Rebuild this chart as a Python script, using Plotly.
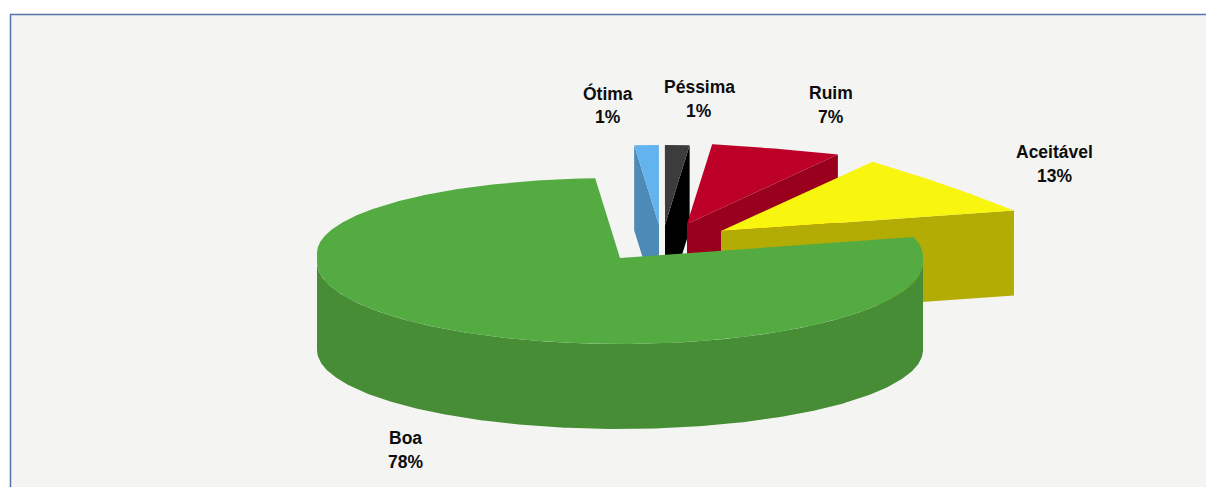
import math
import plotly.graph_objects as go

# ---- data ----
categories = ["Ótima", "Péssima", "Ruim", "Aceitável", "Boa"]
shares = [1.3, 1.3, 7.0, 12.6, 77.8]

# ---- styles / layout ----
top_colors = ["#63B4EE", "#3C3C3C", "#BC0028", "#F8F50F", "#54AB42"]
side_colors = ["#4D8AB8", "#000000", "#99001E", "#B3AC04", "#468D36"]
apex_px = [(659, 225), (665, 225), (687, 224), (721, 231), (620, 258)]
label_px = [(608, 93), (699, 87), (831, 93), (1054, 152), (405, 438)]
rim_bulge = [1.0, 1.0, 0.45, 0.2, 1.0]   # perspective flattening of the far rim
START_DEG = 94.7
RX, RY_BACK, DEPTH = 303, 80, 85
W, H = 1206, 487


def rim(cx, cy, deg):
    r = math.radians(deg)
    return cx + RX * math.cos(r), cy - RY_BACK * math.sin(r)


def drum_rim(cx, cy, deg):
    # the near half of the big slice is seen larger and lower than its far half
    r = math.radians(deg)
    s, c = math.sin(r), math.cos(r)
    if s >= 0:
        return cx + RX * c, cy - 3.5 + 1.5 * c - 76.5 * s
    return cx + RX * c, cy + 4 - 82 * s


def arc(cx, cy, a0, a1, n=240, bulge=1.0, fn=rim):
    p0, p1 = fn(cx, cy, a0), fn(cx, cy, a1)
    pts = []
    for i in range(n + 1):
        t = i / n
        x, y = fn(cx, cy, a0 + (a1 - a0) * t)
        chord = (p0[0] + (p1[0] - p0[0]) * t, p0[1] + (p1[1] - p0[1]) * t)
        pts.append((chord[0] + (x - chord[0]) * bulge, chord[1] + (y - chord[1]) * bulge))
    return pts


def poly(fig, pts, color):
    fig.add_trace(go.Scatter(
        x=[p[0] for p in pts] + [pts[0][0]],
        y=[p[1] for p in pts] + [pts[0][1]],
        mode="lines", fill="toself", fillcolor=color,
        line=dict(width=0, color=color), hoverinfo="skip", showlegend=False))


fig = go.Figure()
total = sum(shares)
angle = START_DEG
for i, share in enumerate(shares):
    a0 = angle
    a1 = angle - 360 * share / total
    angle = a1
    cx, cy = apex_px[i]
    if categories[i] == "Boa":
        rim_pts = arc(cx, cy, a0, a1, n=720, fn=drum_rim)
        # outer wall, front half of the drum
        front = arc(cx, cy, -0.01, -179.99, fn=drum_rim)
        mid_y = cy + 4
        lower = [(x, mid_y + 88 + (y - mid_y) * 79 / 82) for x, y in reversed(front)]
        poly(fig, front + lower, side_colors[i])
    else:
        rim_pts = arc(cx, cy, a0, a1, bulge=rim_bulge[i])
        # wall of the visible cut: left cut for Ótima, right cut for the others
        p = rim_pts[0] if categories[i] == "Ótima" else rim_pts[-1]
        poly(fig, [p, (cx, cy), (cx, cy + DEPTH), (p[0], p[1] + DEPTH)], side_colors[i])
    poly(fig, [(cx, cy)] + rim_pts, top_colors[i])

annotations = []
for name, share, (lx, ly) in zip(categories, shares, label_px):
    for text, y in ((name, ly), (f"{share:.0f}%", ly + 24)):
        annotations.append(dict(
            x=lx, y=y, text=f"<b>{text}</b>", showarrow=False,
            xanchor="center", yanchor="middle",
            font=dict(family="Liberation Sans, Arial, sans-serif", size=17.5, color="#0D0D0D")))

fig.update_layout(
    width=W, height=H,
    margin=dict(l=0, r=0, t=0, b=0),
    paper_bgcolor="#FFFFFF", plot_bgcolor="#FFFFFF",
    xaxis=dict(range=[0, W], visible=False, fixedrange=True),
    yaxis=dict(range=[H, 0], visible=False, fixedrange=True),
    annotations=annotations,
    shapes=[dict(type="rect", xref="x", yref="y", x0=10.5, y0=14.5, x1=W + 20, y1=H + 20,
                 fillcolor="#F4F4F3", line=dict(color="#5572AC", width=1.5), layer="below")],
)

fig.write_html("out.html", config={"displayModeBar": False},
               post_script="document.body.style.margin='0';document.body.style.overflow='hidden';")
